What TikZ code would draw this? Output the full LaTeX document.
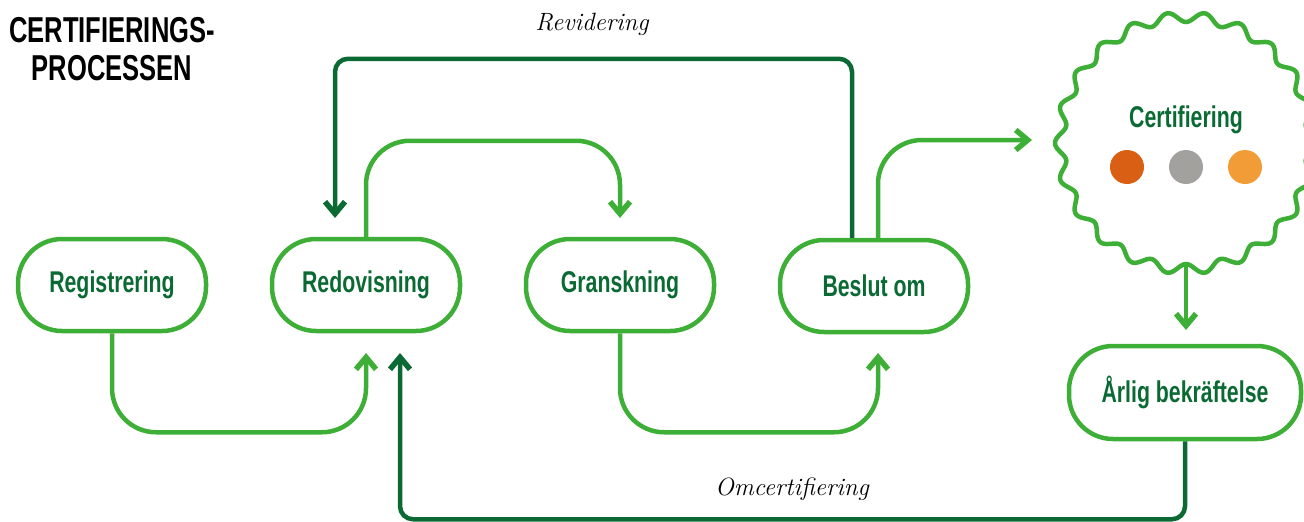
\documentclass[tikz,border=0pt]{standalone}
\usepackage{fontspec}
\newfontfamily\cond[FakeStretch=0.71]{Liberation Sans}
\usetikzlibrary{arrows.meta}
\definecolor{lgreen}{HTML}{3DAE36}
\definecolor{dgreen}{HTML}{0B6A33}
\definecolor{dotA}{HTML}{D95F14}
\definecolor{dotB}{HTML}{A3A19E}
\definecolor{dotC}{HTML}{F29C38}
\begin{document}
\begin{tikzpicture}[x=1pt,y=-1pt,
  box/.style={draw=lgreen, line width=4.5pt, rounded corners=44pt, minimum width=188pt,
    minimum height=92pt, inner sep=0pt, text=dgreen,
    font=\cond\bfseries\fontsize{30}{30}\selectfont},
  lflow/.style={draw=lgreen, line width=4.5pt, rounded corners=44pt},
  dflow/.style={draw=dgreen, line width=4.5pt, rounded corners=13pt},
  tip/.style={-{Straight Barb[length=12pt,width=20pt,line width=5.5pt]}},
  lbl/.style={font=\itshape\fontsize{25}{25}\selectfont, text=black},
  dot/.style={circle, inner sep=0pt, minimum size=34pt},
  wave/.style={draw=lgreen, line width=4.5pt}]
\useasboundingbox (0,0) rectangle (1304,522);
\clip (0,0) rectangle (1304,522);

\node[font=\cond\bfseries\fontsize{36}{38}\selectfont, align=center, text=black] (title) at (112,49) {CERTIFIERINGS-\\PROCESSEN};

\node[box] (reg) at (112,285) {Registrering};
\node[box] (red) at (366,285) {Redovisning};
\node[box] (gran) at (620,285) {Granskning};
\node[box] (besl) at (874,286) {Beslut om};
\node[box, minimum width=232pt, minimum height=93pt] (arl) at (1185,392.5) {Årlig bekräftelse};

% wavy certification seal
\coordinate (cc) at (1186,143);
\draw[wave] plot[domain=0:360, samples=721, smooth]
  ({1186+(126-5*cos(22*(\x-90)))*cos(\x)},{143+(126-5*cos(22*(\x-90)))*sin(\x)}) -- cycle;
\node[font=\cond\bfseries\fontsize{30}{30}\selectfont, text=dgreen] (cert) at (1186,120) {Certifiering};
\node[dot, fill=dotA] (d1) at (1127,167) {};
\node[dot, fill=dotB] (d2) at (1186,167) {};
\node[dot, fill=dotC] (d3) at (1245,167) {};
\coordinate (certb) at (1186,265);

% arrow tip targets
\coordinate (t1) at (366,353);
\coordinate (t2) at (620,218);
\coordinate (t3) at (878,353);
\coordinate (t4) at (335,218);
\coordinate (t5) at (1032,140);
\coordinate (t6) at (1186,330);
\coordinate (t7) at (400,353);

% light green flow
\draw[lflow,tip] (reg.south) -- ++(0,99) -| (t1);
\draw[lflow,tip] (red.north) -- ++(0,-96) -| (t2);
\draw[lflow,tip] (gran.south) -- ++(0,99) -| (t3);
\draw[lflow,tip] ([xshift=4pt]besl.north) |- (t5);
\draw[lflow,tip] (certb) -- (t6);

% dark green loops
\draw[dflow,tip] ([xshift=-22pt]besl.north) -- ++(0,-179) -| (t4);
\draw[dflow,tip] (arl.south) -- ++(0,78) -| (t7);

\node[lbl] (rev) at (592,24) {Revidering};
\node[lbl] (omc) at (792,489) {Omcertifiering};
\end{tikzpicture}
\end{document}
